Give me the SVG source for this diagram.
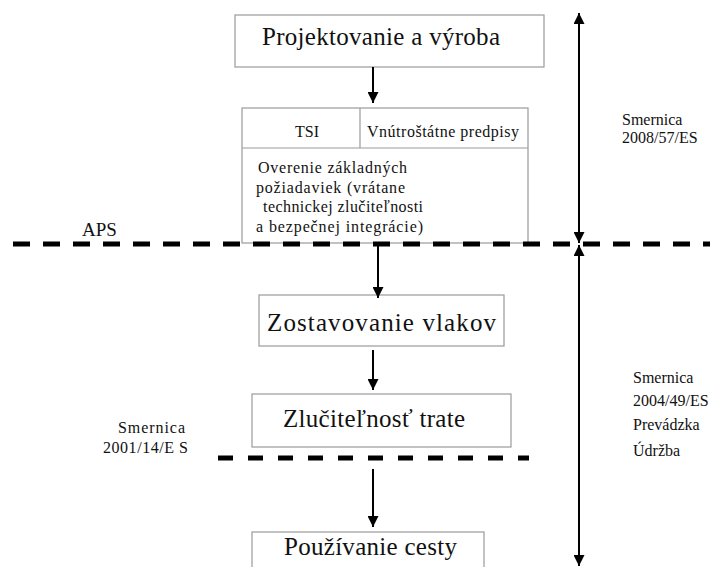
<svg xmlns="http://www.w3.org/2000/svg" width="710" height="567" viewBox="0 0 710 567" font-family="'Liberation Serif', 'Times New Roman', serif">
<defs>
<style>
.box{fill:#fff;stroke:#9a9a9a;stroke-width:1.2}
.t{fill:#111}
.big{font-size:25px}
.sm{font-size:16px}
.ln{stroke:#000;stroke-width:2;fill:none}
.dash{stroke:#000;stroke-width:5;fill:none}
</style>
<marker id="ah" viewBox="0 0 10 10" refX="10" refY="5" markerWidth="11" markerHeight="11" markerUnits="userSpaceOnUse" orient="auto-start-reverse">
<path d="M0,0 L10,5 L0,10 z" fill="#000"/>
</marker>
</defs>
<rect width="710" height="567" fill="#fff"/>

<g id="n-projektovanie">
<rect class="box" x="235" y="15" width="309" height="52"/>
<text class="t big" x="262" y="45" textLength="238" lengthAdjust="spacing">Projektovanie a výroba</text>
</g>

<g id="n-overenie">
<rect class="box" x="242" y="108" width="286" height="135"/>
<line class="box" x1="242" y1="148" x2="528" y2="148"/>
<line class="box" x1="360" y1="108" x2="360" y2="148"/>
<text class="t sm" x="307" y="137" text-anchor="middle">TSI</text>
<text class="t sm" x="367" y="137" textLength="152" lengthAdjust="spacing">Vnútroštátne predpisy</text>
<text class="t sm" x="258" y="173" textLength="149" lengthAdjust="spacing">Overenie základných</text>
<text class="t sm" x="256" y="193" textLength="149" lengthAdjust="spacing">požiadaviek (vrátane</text>
<text class="t sm" x="263" y="212" textLength="160" lengthAdjust="spacing">technickej zlučiteľnosti</text>
<text class="t sm" x="256" y="232" textLength="167" lengthAdjust="spacing">a bezpečnej integrácie)</text>
</g>

<g id="n-zostavovanie">
<rect class="box" x="259" y="295" width="245" height="51"/>
<text class="t big" x="267" y="331" textLength="229" lengthAdjust="spacing">Zostavovanie vlakov</text>
</g>

<g id="n-zlucitelnost">
<rect class="box" x="252" y="394" width="259" height="53"/>
<text class="t big" x="283" y="427" textLength="182" lengthAdjust="spacing">Zlučiteľnosť trate</text>
</g>

<g id="n-pouzivanie">
<rect class="box" x="252" y="532" width="232" height="40"/>
<text class="t big" x="284" y="555" textLength="173" lengthAdjust="spacing">Používanie cesty</text>
</g>

<g id="labels">
<text class="t" x="82" y="236" font-size="19">APS</text>
<text class="t sm" x="622" y="125">Smernica</text>
<text class="t sm" x="622" y="143">2008/57/ES</text>
<text class="t sm" x="633" y="383">Smernica</text>
<text class="t sm" x="633" y="406">2004/49/ES</text>
<text class="t sm" x="633" y="430">Prevádzka</text>
<text class="t sm" x="633" y="456">Údržba</text>
<text class="t sm" x="118" y="433" textLength="67" lengthAdjust="spacing">Smernica</text>
<text class="t sm" x="103" y="453" textLength="85" lengthAdjust="spacing">2001/14/E S</text>
</g>

<g id="connectors">
<line class="dash" x1="13" y1="244" x2="710" y2="244" stroke-dasharray="17 13"/>
<line class="dash" x1="218" y1="458" x2="529" y2="458" stroke-dasharray="15 15"/>
<line class="ln" x1="373" y1="67" x2="373" y2="103" marker-end="url(#ah)"/>
<line class="ln" x1="378" y1="243" x2="378" y2="298" stroke-width="3.5" marker-end="url(#ah)"/>
<line class="ln" x1="373" y1="350" x2="373" y2="390" marker-end="url(#ah)"/>
<line class="ln" x1="373" y1="469" x2="373" y2="527" marker-end="url(#ah)"/>
<line class="ln" x1="579" y1="13" x2="579" y2="243" marker-start="url(#ah)" marker-end="url(#ah)"/>
<line class="ln" x1="579" y1="245" x2="579" y2="566" marker-start="url(#ah)" marker-end="url(#ah)"/>
</g>
</svg>
